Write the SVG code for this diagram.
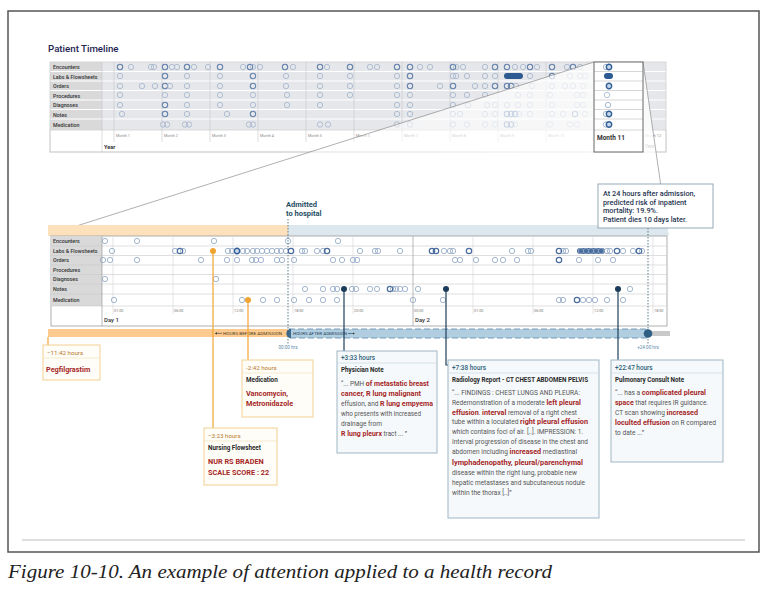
<svg xmlns="http://www.w3.org/2000/svg" xmlns:xlink="http://www.w3.org/1999/xlink" width="767" height="592" viewBox="0 0 767 592">
<defs>
<style>
text{font-family:Roboto,"Liberation Sans",sans-serif}
.cap{font-family:"Liberation Serif",serif;font-style:italic}
.lbl{font-size:5.3px;font-weight:500;fill:#333}
.mo{font-size:3.8px;fill:#8a8a8a}
.tm{font-size:3.8px;fill:#777}
.hdo{font-size:6.2px;fill:#b7772b}
.hdb{font-size:6.4px;fill:#2d6078;font-weight:500}
.ttl{font-size:6.3px;font-weight:700;fill:#2a2a2a}
.body{font-size:6.6px;fill:#555}
.r{font-size:7.2px;font-weight:700;fill:#a52626}
.rb{font-size:7.3px;font-weight:700;fill:#a52626}
.ob{fill:#fffdf7;stroke:#f2cf92;stroke-width:1}
.bb{fill:#f5f9fb;stroke:#9fb5c4;stroke-width:1}
.sepo{stroke:#f4e0bb;stroke-width:0.7}
.sepb{stroke:#c9d8e2;stroke-width:0.7}
.rl{stroke:#fff;stroke-width:1}
.dl{stroke:#d3d5d9;stroke-width:0.6}
.ol{stroke:#f0a431;stroke-width:1.2;fill:none}
.nl{stroke:#1d3f5a;stroke-width:1.2;fill:none}
</style>
<circle id="a" r="2.7" fill="none" stroke="#8ea5c4" stroke-width="0.8"/>
<circle id="b" r="2.7" fill="none" stroke="#4a6d9e" stroke-width="1.2"/>
<circle id="ta" r="2.7" fill="none" stroke="#a2b4cd" stroke-width="0.8"/>
<circle id="tb" r="2.7" fill="none" stroke="#6482ad" stroke-width="1.1"/>
<circle id="m" r="2.7" fill="#c9d7ea" stroke="#2f5d96" stroke-width="1.4"/>
<circle id="f" r="3" fill="#1c3c5c"/>
<circle id="o" r="3" fill="#f0a431"/>
<linearGradient id="wash" x1="0" y1="0" x2="1" y2="0">
<stop offset="0" stop-color="#fff" stop-opacity="0.25"/>
<stop offset="1" stop-color="#fff" stop-opacity="0.8"/>
</linearGradient>
<marker id="ah" markerWidth="4" markerHeight="4" refX="2" refY="2" orient="auto"><path d="M0,0 L4,2 L0,4 z" fill="#333"/></marker>
</defs>

<rect x="8" y="11" width="751" height="541" fill="#fff" stroke="#555" stroke-width="1.5"/>
<line x1="22" y1="540" x2="745" y2="540" stroke="#bdbdbd" stroke-width="1"/>

<text x="48" y="52" font-size="9.7" fill="#1e2452" font-weight="500">Patient Timeline</text>

<g id="overview">
<rect x="50" y="62" width="52" height="68" fill="#d9d9da"/>
<rect x="102" y="62" width="564" height="68" fill="#e6e7ea"/>
<g class="rl">
<line x1="50" y1="71.5" x2="666" y2="71.5"/><line x1="50" y1="81" x2="666" y2="81"/><line x1="50" y1="90.5" x2="666" y2="90.5"/><line x1="50" y1="100" x2="666" y2="100"/><line x1="50" y1="109.5" x2="666" y2="109.5"/><line x1="50" y1="119" x2="666" y2="119"/>
</g>
<rect x="50" y="130" width="616" height="22" fill="#fff" stroke="#cfcfcf" stroke-width="0.8"/>
<rect x="50" y="62" width="616" height="90" fill="none" stroke="#cfcfcf" stroke-width="0.8"/>
<g stroke="#c5c8ce" stroke-width="0.6">
<line x1="102" y1="62" x2="102" y2="152"/>
<line x1="114" y1="62" x2="114" y2="142"/><line x1="162" y1="62" x2="162" y2="142"/><line x1="210" y1="62" x2="210" y2="142"/><line x1="258" y1="62" x2="258" y2="142"/><line x1="306" y1="62" x2="306" y2="142"/><line x1="354" y1="62" x2="354" y2="142"/><line x1="402" y1="62" x2="402" y2="142"/><line x1="450" y1="62" x2="450" y2="142"/><line x1="498" y1="62" x2="498" y2="142"/><line x1="546" y1="62" x2="546" y2="142"/><line x1="642" y1="62" x2="642" y2="142"/>
</g>
<text class="lbl" x="53" y="69">Encounters</text>
<text class="lbl" x="53" y="78.5">Labs &amp; Flowsheets</text>
<text class="lbl" x="53" y="88">Orders</text>
<text class="lbl" x="53" y="97.5">Procedures</text>
<text class="lbl" x="53" y="107">Diagnoses</text>
<text class="lbl" x="53" y="116.5">Notes</text>
<text class="lbl" x="53" y="126.5">Medication</text>
<g class="mo">
<text x="116" y="137">Month 1</text><text x="164" y="137">Month 2</text><text x="212" y="137">Month 3</text><text x="260" y="137">Month 4</text><text x="308" y="137">Month 5</text><text x="356" y="137">Month 6</text><text x="404" y="137">Month 7</text><text x="452" y="137">Month 8</text><text x="500" y="137">Month 9</text><text x="548" y="137">Month 10</text><text x="645" y="137">Month 12</text>
</g>
<text x="104" y="149" font-size="5.5" font-weight="700" fill="#333">Year</text>
<text x="645" y="148" font-size="4.8" font-weight="500" fill="#555">Year</text>

<g id="ov-dots">
<use href="#tb" x="120" y="67"/><use href="#ta" x="131" y="67"/><use href="#ta" x="151" y="67"/><use href="#ta" x="154" y="67"/><use href="#tb" x="165" y="67"/><use href="#ta" x="172" y="67"/><use href="#ta" x="177" y="67"/><use href="#tb" x="187" y="67"/><use href="#ta" x="194" y="67"/><use href="#ta" x="208" y="67"/><use href="#tb" x="220" y="67"/><use href="#ta" x="243" y="67"/><use href="#tb" x="250" y="67"/><use href="#ta" x="253" y="67"/><use href="#ta" x="260" y="67"/><use href="#tb" x="285" y="67"/><use href="#ta" x="293" y="67"/><use href="#tb" x="320" y="67"/><use href="#ta" x="327" y="67"/><use href="#tb" x="350" y="67"/><use href="#ta" x="370" y="67"/><use href="#ta" x="377" y="67"/><use href="#tb" x="397" y="67"/><use href="#tb" x="410" y="67"/><use href="#ta" x="420" y="67"/><use href="#ta" x="430" y="67"/><use href="#tb" x="453" y="67"/><use href="#ta" x="456" y="67"/><use href="#ta" x="463" y="67"/><use href="#ta" x="485" y="67"/><use href="#tb" x="495" y="67"/><use href="#tb" x="507" y="67"/><use href="#ta" x="515" y="67"/><use href="#ta" x="523" y="67"/><use href="#tb" x="530" y="67"/><use href="#ta" x="537" y="67"/><use href="#tb" x="552" y="67"/><use href="#ta" x="567" y="67"/><use href="#tb" x="573" y="67"/><use href="#ta" x="580" y="67"/>
<use href="#ta" x="120" y="76"/><use href="#tb" x="165" y="76"/><use href="#ta" x="187" y="76"/><use href="#ta" x="220" y="76"/><use href="#tb" x="253" y="76"/><use href="#ta" x="286" y="76"/><use href="#ta" x="320" y="76"/><use href="#ta" x="350" y="76"/><use href="#ta" x="397" y="76"/><use href="#tb" x="410" y="76"/><use href="#ta" x="453" y="76"/><use href="#ta" x="456" y="76"/><use href="#ta" x="467" y="76"/><use href="#ta" x="485" y="76"/><use href="#ta" x="495" y="76"/><rect x="504" y="73" width="19" height="6" rx="3" fill="#2d5a90"/><use href="#ta" x="530" y="76"/><use href="#tb" x="552" y="76"/><use href="#ta" x="570" y="76"/><use href="#ta" x="580" y="76"/><use href="#ta" x="585" y="76"/>
<use href="#ta" x="120" y="86"/><use href="#ta" x="142" y="86"/><use href="#ta" x="155" y="86"/><use href="#tb" x="165" y="86"/><use href="#ta" x="170" y="86"/><use href="#ta" x="187" y="86"/><use href="#ta" x="220" y="86"/><use href="#tb" x="253" y="86"/><use href="#ta" x="286" y="86"/><use href="#ta" x="320" y="86"/><use href="#ta" x="350" y="86"/><use href="#ta" x="397" y="86"/><use href="#tb" x="410" y="86"/><use href="#ta" x="440" y="86"/><use href="#tb" x="453" y="86"/><use href="#ta" x="475" y="86"/><use href="#ta" x="485" y="86"/><use href="#tb" x="495" y="86"/><use href="#tb" x="507" y="86"/><use href="#tb" x="511" y="86"/><use href="#ta" x="516" y="86"/><use href="#ta" x="532" y="86"/><use href="#ta" x="552" y="86"/><use href="#ta" x="565" y="86"/><use href="#ta" x="573" y="86"/><use href="#ta" x="583" y="86"/>
<use href="#ta" x="120" y="95"/><use href="#ta" x="165" y="95"/><use href="#ta" x="187" y="95"/><use href="#ta" x="220" y="95"/><use href="#ta" x="253" y="95"/><use href="#ta" x="287" y="95"/><use href="#ta" x="320" y="95"/><use href="#ta" x="350" y="95"/><use href="#ta" x="397" y="95"/><use href="#ta" x="410" y="95"/><use href="#ta" x="453" y="95"/><use href="#ta" x="467" y="95"/><use href="#ta" x="485" y="95"/><use href="#ta" x="518" y="95"/><use href="#ta" x="530" y="95"/><use href="#ta" x="550" y="95"/><use href="#ta" x="577" y="95"/><use href="#ta" x="583" y="95"/>
<use href="#ta" x="120" y="105"/><use href="#tb" x="165" y="105"/><use href="#ta" x="187" y="105"/><use href="#ta" x="220" y="105"/><use href="#ta" x="253" y="105"/><use href="#ta" x="287" y="105"/><use href="#ta" x="320" y="105"/><use href="#ta" x="397" y="105"/><use href="#ta" x="410" y="105"/><use href="#ta" x="453" y="105"/><use href="#ta" x="468" y="105"/><use href="#ta" x="487" y="105"/><use href="#ta" x="495" y="105"/><use href="#ta" x="507" y="105"/><use href="#ta" x="518" y="105"/><use href="#ta" x="530" y="105"/><use href="#ta" x="552" y="105"/><use href="#ta" x="577" y="105"/><use href="#ta" x="583" y="105"/>
<use href="#ta" x="122" y="114"/><use href="#tb" x="165" y="114"/><use href="#ta" x="187" y="114"/><use href="#ta" x="227" y="114"/><use href="#tb" x="253" y="114"/><use href="#ta" x="397" y="114"/><use href="#ta" x="410" y="114"/><use href="#ta" x="453" y="114"/><use href="#ta" x="460" y="114"/><use href="#ta" x="485" y="114"/><use href="#ta" x="495" y="114"/><use href="#tb" x="507" y="114"/><use href="#tb" x="511" y="114"/><use href="#tb" x="515" y="114"/><use href="#ta" x="519" y="114"/><use href="#ta" x="530" y="114"/><use href="#ta" x="552" y="114"/><use href="#ta" x="563" y="114"/><use href="#tb" x="575" y="114"/><use href="#ta" x="585" y="114"/>
<use href="#ta" x="163" y="124.5"/><use href="#ta" x="167" y="124.5"/><use href="#ta" x="185" y="124.5"/><use href="#ta" x="189" y="124.5"/><use href="#ta" x="249" y="124.5"/><use href="#ta" x="253" y="124.5"/><use href="#ta" x="320" y="124.5"/><use href="#ta" x="328" y="124.5"/><use href="#ta" x="397" y="124.5"/><use href="#ta" x="410" y="124.5"/><use href="#ta" x="453" y="124.5"/><use href="#ta" x="467" y="124.5"/><use href="#ta" x="485" y="124.5"/><use href="#ta" x="495" y="124.5"/><use href="#tb" x="507" y="124.5"/><use href="#tb" x="511" y="124.5"/><use href="#ta" x="515" y="124.5"/><use href="#ta" x="550" y="124.5"/><use href="#ta" x="570" y="124.5"/><use href="#ta" x="577" y="124.5"/>
</g>

<polygon points="594,62 48,235 668,235 643,62" fill="url(#wash)"/>

<g id="month11">
<rect x="594" y="62" width="49" height="90" fill="#fff"/>
<g stroke="#bdbdbd" stroke-width="0.6">
<line x1="594" y1="71.5" x2="643" y2="71.5"/><line x1="594" y1="81" x2="643" y2="81"/><line x1="594" y1="90.5" x2="643" y2="90.5"/><line x1="594" y1="100" x2="643" y2="100"/><line x1="594" y1="109.5" x2="643" y2="109.5"/><line x1="594" y1="119" x2="643" y2="119"/><line x1="594" y1="130" x2="643" y2="130"/>
</g>
<use href="#a" x="606" y="67"/><use href="#m" x="609" y="67"/>
<rect x="604" y="73" width="9" height="6" rx="3" fill="#2d5a90"/>
<use href="#m" x="609" y="86"/>
<use href="#ta" x="607" y="95"/>
<use href="#a" x="608" y="105"/>
<use href="#a" x="606" y="114"/><use href="#m" x="609" y="114"/>
<use href="#a" x="606" y="124.5"/><use href="#m" x="609" y="124.5"/>
<rect x="594" y="62" width="49" height="90" fill="none" stroke="#666" stroke-width="1"/>
<text x="597" y="140" font-size="6.5" font-weight="700" fill="#333">Month 11</text>
</g>
</g>

<g id="zoom-lines" stroke="#7a7a7a" stroke-width="0.6" fill="none">
<line x1="594" y1="62" x2="48" y2="235"/>
<line x1="643" y1="62" x2="668" y2="235"/>
</g>

<g id="detail">
<rect x="48" y="225" width="240" height="11" fill="#fde1bd"/>
<rect x="288" y="225" width="380" height="11" fill="#dce8ee"/>
<rect x="51" y="236" width="616" height="90" fill="#fff" stroke="#9c9c9c" stroke-width="0.8"/>
<rect x="51" y="236" width="51" height="70" fill="#d9d9da"/>
<g stroke="#c9c9c9" stroke-width="0.6">
<line x1="51" y1="246" x2="667" y2="246"/><line x1="51" y1="255.5" x2="667" y2="255.5"/><line x1="51" y1="265" x2="667" y2="265"/><line x1="51" y1="274.5" x2="667" y2="274.5"/><line x1="51" y1="284" x2="667" y2="284"/><line x1="51" y1="294" x2="667" y2="294"/><line x1="51" y1="306" x2="667" y2="306"/>
</g>
<g class="dl">
<line x1="113" y1="236" x2="113" y2="314"/><line x1="173" y1="236" x2="173" y2="314"/><line x1="233" y1="236" x2="233" y2="314"/><line x1="293" y1="236" x2="293" y2="314"/><line x1="353" y1="236" x2="353" y2="314"/><line x1="473" y1="236" x2="473" y2="314"/><line x1="533" y1="236" x2="533" y2="314"/><line x1="593" y1="236" x2="593" y2="314"/><line x1="653" y1="236" x2="653" y2="314"/>
</g>
<line x1="102" y1="236" x2="102" y2="326" stroke="#9c9c9c" stroke-width="0.7"/>
<line x1="413" y1="236" x2="413" y2="326" stroke="#9c9c9c" stroke-width="0.7"/>
<text class="lbl" x="53" y="243">Encounters</text>
<text class="lbl" x="53" y="253">Labs &amp; Flowsheets</text>
<text class="lbl" x="53" y="262">Orders</text>
<text class="lbl" x="53" y="271.5">Procedures</text>
<text class="lbl" x="53" y="281">Diagnoses</text>
<text class="lbl" x="53" y="291">Notes</text>
<text class="lbl" x="53" y="302">Medication</text>
<g class="tm">
<text x="114" y="312">01:00</text><text x="174" y="312">06:00</text><text x="234" y="312">12:00</text><text x="294" y="312">18:00</text><text x="354" y="312">20:00</text><text x="414" y="312">00:00</text><text x="474" y="312">01:00</text><text x="534" y="312">06:00</text><text x="594" y="312">12:00</text><text x="654" y="312">18:00</text>
</g>
<text x="104" y="322" font-size="6" font-weight="500" fill="#333">Day 1</text>
<text x="415" y="322" font-size="6" font-weight="500" fill="#333">Day 2</text>

<g id="detail-dots">
<use href="#a" x="105" y="241"/><use href="#a" x="137" y="241"/><use href="#a" x="214" y="241"/><use href="#a" x="288" y="241"/><use href="#a" x="338" y="241"/>
<use href="#a" x="112" y="251"/><use href="#a" x="175" y="251"/><use href="#b" x="180" y="251"/><use href="#a" x="183" y="251"/><use href="#a" x="228" y="251"/><use href="#a" x="232" y="251"/><use href="#m" x="237" y="251"/><use href="#a" x="243" y="251"/><use href="#a" x="247" y="251"/><use href="#a" x="253" y="251"/><use href="#a" x="257" y="251"/><use href="#a" x="262" y="251"/><use href="#a" x="267" y="251"/><use href="#a" x="272" y="251"/><use href="#a" x="277" y="251"/><use href="#a" x="281" y="251"/><use href="#a" x="286" y="251"/><use href="#b" x="291" y="251"/><use href="#a" x="302" y="251"/><use href="#a" x="305" y="251"/><use href="#a" x="317" y="251"/><use href="#a" x="323" y="251"/><use href="#b" x="327" y="251"/><use href="#a" x="360" y="251"/><use href="#a" x="375" y="251"/><use href="#a" x="378" y="251"/><use href="#a" x="400" y="251"/><use href="#b" x="432" y="251"/><use href="#b" x="436" y="251"/><use href="#a" x="444" y="251"/><use href="#a" x="450" y="251"/><use href="#a" x="453" y="251"/><use href="#b" x="469" y="251"/><use href="#a" x="512" y="251"/><use href="#a" x="528" y="251"/><use href="#a" x="531" y="251"/><use href="#b" x="559" y="251"/><use href="#a" x="563" y="251"/><use href="#a" x="566" y="251"/>
<rect x="577" y="248" width="28" height="6" rx="3" fill="#4a6f9e"/>
<use href="#a" x="581" y="251"/><use href="#a" x="586" y="251"/><use href="#a" x="591" y="251"/><use href="#a" x="596" y="251"/><use href="#a" x="601" y="251"/>
<use href="#a" x="607" y="251"/><use href="#a" x="610" y="251"/><use href="#b" x="617" y="251"/><use href="#a" x="623" y="251"/><use href="#a" x="633" y="251"/><use href="#b" x="639" y="251"/><use href="#a" x="642" y="251"/>
<use href="#a" x="103" y="260"/><use href="#a" x="110" y="260"/><use href="#a" x="137" y="260"/><use href="#a" x="201" y="260"/><use href="#a" x="227" y="260"/><use href="#a" x="237" y="260"/><use href="#a" x="252" y="260"/><use href="#a" x="256" y="260"/><use href="#a" x="261" y="260"/><use href="#a" x="277" y="260"/><use href="#a" x="282" y="260"/><use href="#a" x="294" y="260"/><use href="#a" x="333" y="260"/><use href="#a" x="342" y="260"/><use href="#a" x="353" y="260"/><use href="#a" x="357" y="260"/><use href="#a" x="455" y="260"/><use href="#a" x="460" y="260"/><use href="#a" x="476" y="260"/><use href="#a" x="495" y="260"/><use href="#a" x="503" y="260"/><use href="#a" x="517" y="260"/><use href="#b" x="559" y="260"/><use href="#a" x="579" y="260"/><use href="#a" x="598" y="260"/><use href="#a" x="613" y="260"/>
<use href="#a" x="105" y="279"/><use href="#a" x="216" y="279"/>
<use href="#a" x="305" y="289"/><use href="#a" x="323" y="289"/><use href="#a" x="333" y="289"/><use href="#a" x="337" y="289"/><use href="#a" x="352" y="289"/><use href="#a" x="356" y="289"/><use href="#a" x="370" y="289"/><use href="#a" x="377" y="289"/><use href="#b" x="390" y="289"/><use href="#a" x="393" y="289"/><use href="#a" x="396" y="289"/><use href="#a" x="400" y="289"/><use href="#a" x="405" y="289"/><use href="#a" x="418" y="289"/><use href="#a" x="630" y="289"/>
<use href="#a" x="114" y="300"/><use href="#a" x="242" y="300"/><use href="#a" x="263" y="300"/><use href="#a" x="277" y="300"/><use href="#a" x="294" y="300"/><use href="#a" x="309" y="300"/><use href="#a" x="323" y="300"/><use href="#a" x="337" y="300"/><use href="#a" x="413" y="300"/><use href="#a" x="443" y="300"/><use href="#a" x="559" y="300"/><use href="#a" x="563" y="300"/><use href="#b" x="577" y="300"/><use href="#a" x="583" y="300"/><use href="#a" x="589" y="300"/><use href="#a" x="595" y="300"/><use href="#a" x="607" y="300"/><use href="#a" x="623" y="300"/>
</g>

<text x="286" y="207" font-size="7.5" font-weight="700" fill="#1f4e63">Admitted</text>
<text x="286" y="216" font-size="7.5" font-weight="700" fill="#1f4e63">to hospital</text>
</g>

<g id="timebar">
<rect x="48" y="329" width="240" height="8" fill="#fcca8f"/>
<line x1="222" y1="333.3" x2="216" y2="333.3" stroke="#333" stroke-width="0.6" marker-end="url(#ah)"/>
<text x="223" y="335" font-size="4.3" fill="#4a3a20" textLength="59" lengthAdjust="spacingAndGlyphs">HOURS BEFORE ADMISSION</text>
<rect x="648" y="331" width="22" height="5" fill="#c9c9c9"/>
<rect x="289" y="329" width="359" height="9" fill="#b1cde0" stroke="#6c93b3" stroke-width="0.9" stroke-dasharray="6,3"/>
<path d="M291 328.8 A4.7 4.7 0 0 0 291 338.2 Z" fill="#3d6a8e"/>
<circle cx="648" cy="333.5" r="4.3" fill="#2f5f85"/>
<text x="293" y="335.2" font-size="4.3" fill="#1d3f5a" textLength="54" lengthAdjust="spacingAndGlyphs">HOURS AFTER ADMISSION</text>
<line x1="348" y1="333.5" x2="354" y2="333.5" stroke="#1d3f5a" stroke-width="0.6" marker-end="url(#ah)"/>
<text x="288" y="349" font-size="4.6" fill="#5a8aa8" text-anchor="middle">00:00 hrs</text>
<text x="648" y="349" font-size="4.6" fill="#5a8aa8" text-anchor="middle">+24:00 hrs</text>
</g>

<g id="markers" stroke-dasharray="1.5,1.5" stroke="#3a5a70" stroke-width="0.8">
<line x1="288" y1="219" x2="288" y2="344"/>
<line x1="648" y1="228" x2="648" y2="344"/>
</g>

<g id="risk-note">
<rect x="598" y="184" width="115" height="44" fill="#fff" stroke="#8aa0b0" stroke-width="0.9"/>
<g font-size="7.3" font-weight="500" fill="#1f3550">
<text x="603" y="196">At 24 hours after admission,</text>
<text x="603" y="204.5">predicted risk of inpatient</text>
<text x="603" y="213">mortality: 19.9%.</text>
<text x="603" y="221.5">Patient dies 10 days later.</text>
</g>
</g>

<g id="connectors">
<line class="ol" x1="213" y1="251" x2="213" y2="428"/>
<line class="ol" x1="248" y1="300" x2="248" y2="360"/>
<line class="ol" x1="48" y1="337" x2="48" y2="345"/>
<use href="#o" x="213" y="251"/>
<use href="#o" x="248" y="300"/>
<line class="nl" x1="344" y1="289" x2="344" y2="351"/>
<path class="nl" d="M446 289 V365 H448"/>
<line class="nl" x1="618" y1="289" x2="618" y2="360"/>
<use href="#f" x="344" y="289"/>
<use href="#f" x="446" y="289"/>
<use href="#f" x="618" y="289"/>
</g>

<g id="c-pegfilgrastim">
<rect class="ob" x="43" y="345" width="57" height="35"/>
<line class="sepo" x1="43" y1="358" x2="100" y2="358"/>
<text class="hdo" x="47" y="355">−11:42 hours</text>
<text class="rb" x="46" y="372">Pegfilgrastim</text>
</g>

<g id="c-medication">
<rect class="ob" x="242" y="360" width="71" height="57"/>
<line class="sepo" x1="242" y1="373" x2="313" y2="373"/>
<text class="hdo" x="246" y="370">-2:42 hours</text>
<text class="ttl" x="246" y="381.5">Medication</text>
<text class="rb" x="246" y="396">Vancomycin,</text>
<text class="rb" x="246" y="406">Metronidazole</text>
</g>

<g id="c-nursing">
<rect class="ob" x="204" y="428" width="73" height="57"/>
<line class="sepo" x1="204" y1="441" x2="277" y2="441"/>
<text class="hdo" x="208" y="438">−3:23 hours</text>
<text class="ttl" x="208" y="450">Nursing Flowsheet</text>
<text class="rb" x="208" y="464">NUR RS BRADEN</text>
<text class="rb" x="208" y="474.5">SCALE SCORE : 22</text>
</g>

<g id="c-physician">
<rect class="bb" x="337" y="351" width="100" height="102"/>
<line class="sepb" x1="337" y1="363" x2="437" y2="363"/>
<text class="hdb" x="341" y="360">+3:33 hours</text>
<text class="ttl" x="341" y="372">Physician Note</text>
<text class="body" x="341" y="386" textLength="88" lengthAdjust="spacingAndGlyphs">“... PMH <tspan class="r">of metastatic breast</tspan></text>
<text class="r" x="341" y="396" textLength="80" lengthAdjust="spacingAndGlyphs">cancer, R lung malignant</text>
<text class="body" x="341" y="406" textLength="92" lengthAdjust="spacingAndGlyphs">effusion, and <tspan class="r">R lung empyema</tspan></text>
<text class="body" x="341" y="416" textLength="80" lengthAdjust="spacingAndGlyphs">who presents with increased</text>
<text class="body" x="341" y="425.5">drainage from</text>
<text class="body" x="341" y="436" textLength="66" lengthAdjust="spacingAndGlyphs"><tspan class="r">R lung pleurx</tspan> tract ... ”</text>
</g>

<g id="c-radiology">
<rect class="bb" x="448" y="360" width="151" height="158"/>
<line class="sepb" x1="448" y1="373" x2="599" y2="373"/>
<text class="hdb" x="452" y="370">+7:38 hours</text>
<text class="ttl" x="452" y="381.5" textLength="136" lengthAdjust="spacingAndGlyphs">Radiology Report - CT CHEST ABDOMEN PELVIS</text>
<text class="body" x="452" y="394.5" textLength="128" lengthAdjust="spacingAndGlyphs">“... FINDINGS : CHEST LUNGS AND PLEURA:</text>
<text class="body" x="452" y="404.5" textLength="129" lengthAdjust="spacingAndGlyphs">Redemonstration of a moderate <tspan class="r">left pleural</tspan></text>
<text class="body" x="452" y="414.5" textLength="125" lengthAdjust="spacingAndGlyphs"><tspan class="r">effusion</tspan>. <tspan class="r">interval</tspan> removal of a right chest</text>
<text class="body" x="452" y="424" textLength="136" lengthAdjust="spacingAndGlyphs">tube within a loculated <tspan class="r">right pleural effusion</tspan></text>
<text class="body" x="452" y="434" textLength="131" lengthAdjust="spacingAndGlyphs">which contains foci of air. [..]. IMPRESSION: 1.</text>
<text class="body" x="452" y="444" textLength="136" lengthAdjust="spacingAndGlyphs">Interval progression of disease in the chest and</text>
<text class="body" x="452" y="454" textLength="125" lengthAdjust="spacingAndGlyphs">abdomen including <tspan class="r">increased</tspan> mediastinal</text>
<text class="r" x="452" y="464.5" textLength="131" lengthAdjust="spacingAndGlyphs">lymphadenopathy, pleural/parenchymal</text>
<text class="body" x="452" y="474.5" textLength="125" lengthAdjust="spacingAndGlyphs">disease within the right lung, probable new</text>
<text class="body" x="452" y="484.5" textLength="133" lengthAdjust="spacingAndGlyphs">hepatic metastases and subcutaneous nodule</text>
<text class="body" x="452" y="495">within the thorax [..]”</text>
</g>

<g id="c-pulmonary">
<rect class="bb" x="611" y="360" width="112" height="102"/>
<line class="sepb" x1="611" y1="373" x2="723" y2="373"/>
<text class="hdb" x="615" y="370">+22:47 hours</text>
<text class="ttl" x="615" y="381.5">Pulmonary Consult Note</text>
<text class="body" x="615" y="395" textLength="91" lengthAdjust="spacingAndGlyphs">“... has a <tspan class="r">complicated pleural</tspan></text>
<text class="body" x="615" y="405" textLength="93" lengthAdjust="spacingAndGlyphs"><tspan class="r">space</tspan> that requires IR guidance.</text>
<text class="body" x="615" y="415" textLength="83" lengthAdjust="spacingAndGlyphs">CT scan showing <tspan class="r">increased</tspan></text>
<text class="body" x="615" y="425" textLength="101" lengthAdjust="spacingAndGlyphs"><tspan class="r">loculted effusion</tspan> on R compared</text>
<text class="body" x="615" y="435">to date ...”</text>
</g>

<text class="cap" x="8" y="578" font-size="19" fill="#222" textLength="544" lengthAdjust="spacingAndGlyphs">Figure 10-10. An example of attention applied to a health record</text>
</svg>
